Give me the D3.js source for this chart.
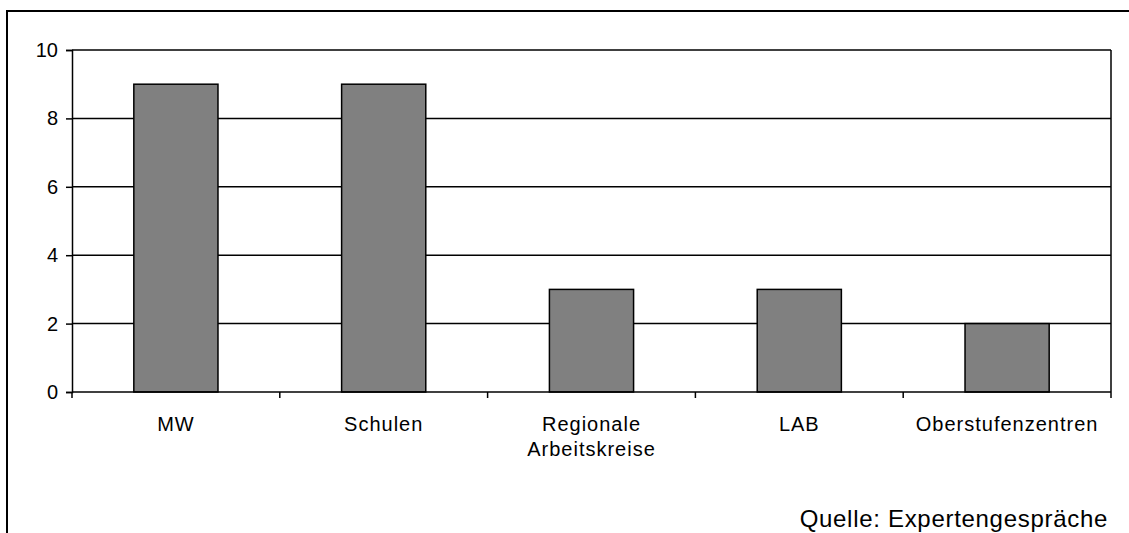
<!DOCTYPE html>
<html><head><meta charset="utf-8">
<script src="https://cdn.jsdelivr.net/npm/d3@7"></script>
<style>body{margin:0;background:#fff}svg{display:block}text{font-family:"Liberation Sans",Arial,sans-serif;fill:#000}</style>
</head><body><svg id="c" width="1129" height="533"></svg>
<script>
const categories = [["MW"],["Schulen"],["Regionale","Arbeitskreise"],["LAB"],["Oberstufenzentren"]];
const values = [9, 9, 3, 3, 2];
const yTicks = [0, 2, 4, 6, 8, 10];
const source = "Quelle: Expertengespräche";

const svg = d3.select("#c");
svg.append("rect").attr("x",7).attr("y",11).attr("width",1140).attr("height",540)
  .attr("fill","none").attr("stroke","#000").attr("stroke-width",2);

const L=72,R=1111,T=50,B=392;
const x = d3.scaleBand().domain(d3.range(categories.length)).range([L,R]).paddingInner(0).paddingOuter(0);
const y = d3.scaleLinear().domain([0,10]).range([B,T]);

// gridlines
svg.append("g").selectAll("line").data(yTicks.filter(d=>d>0)).join("line")
  .attr("x1",L).attr("x2",R).attr("y1",d=>y(d)).attr("y2",d=>y(d))
  .attr("stroke","#000").attr("stroke-width",1.5);
svg.append("line").attr("x1",R).attr("x2",R).attr("y1",T).attr("y2",B).attr("stroke","#000").attr("stroke-width",1.5);

// bars
const bw = x.bandwidth()*0.405;
svg.append("g").selectAll("rect").data(values).join("rect")
  .attr("x",(d,i)=>x(i)+x.bandwidth()/2-bw/2).attr("width",bw)
  .attr("y",d=>y(d)).attr("height",d=>B-y(d))
  .attr("fill","#808080").attr("stroke","#000").attr("stroke-width",1.5);

// y axis
const ya = svg.append("g").attr("transform",`translate(${L},0)`)
  .call(d3.axisLeft(y).tickValues(yTicks).tickSize(6).tickPadding(8).tickFormat(d3.format("d")));
ya.select(".domain").attr("stroke","#000").attr("stroke-width",1.5);
ya.selectAll(".tick line").attr("stroke","#000").attr("stroke-width",1.5);
ya.selectAll("text").attr("font-size",20).attr("font-family","Liberation Sans, Arial, sans-serif").attr("fill","#000");

// x axis
const xa = svg.append("g").attr("transform",`translate(0,${B})`);
xa.append("line").attr("x1",L).attr("x2",R).attr("stroke","#000").attr("stroke-width",1.5);
const edges = d3.range(categories.length+1).map(i=> i<categories.length ? x(i) : R);
xa.selectAll("line.tk").data(edges).join("line").attr("class","tk")
  .attr("x1",d=>d).attr("x2",d=>d).attr("y1",0).attr("y2",6).attr("stroke","#000").attr("stroke-width",1.5);
const lab = xa.selectAll("text.lb").data(categories).join("text").attr("class","lb")
  .attr("text-anchor","middle").attr("font-size",20).attr("letter-spacing",1)
  .attr("transform",(d,i)=>`translate(${x(i)+x.bandwidth()/2},39)`);
lab.selectAll("tspan").data(d=>d).join("tspan").attr("x",0).attr("dy",(d,i)=>i?25:0).text(d=>d);

svg.append("text").attr("x",1108).attr("y",527).attr("text-anchor","end").attr("font-size",24)
  .attr("letter-spacing",0.7).text(source);
</script></body></html>
